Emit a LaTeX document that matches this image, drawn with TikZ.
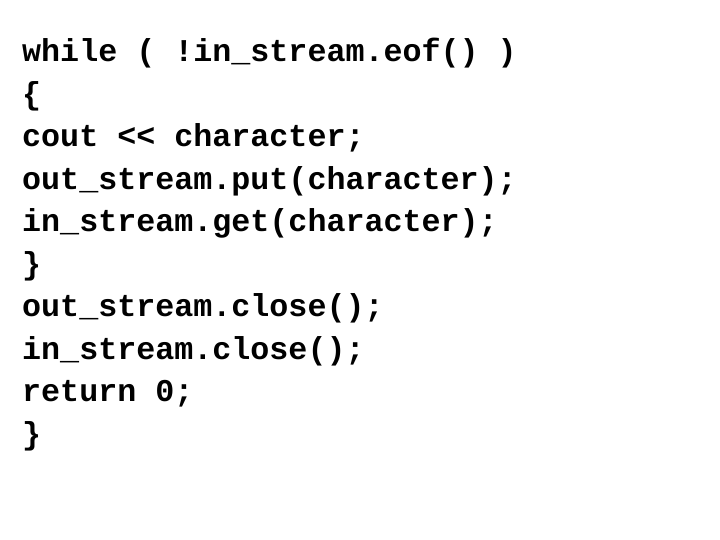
\documentclass[tikz,border=0pt]{standalone}
\usepackage{fontspec}
\setmonofont{Liberation Mono}
\begin{document}
\begin{tikzpicture}[x=1pt,y=1pt,code/.style={anchor=base west,inner sep=0pt,font=\ttfamily\bfseries\fontsize{31.7}{42.5}\selectfont}]
\useasboundingbox[fill=white] (0,0) rectangle (720,540);
\node[code] (l1) at (22,540-62) {while ( !in\_stream.eof() )};
\node[code] (l2) at (22,540-104.5) {\{};
\node[code] (l3) at (22,540-147) {cout << character;};
\node[code] (l4) at (22,540-189.5) {out\_stream.put(character);};
\node[code] (l5) at (22,540-232) {in\_stream.get(character);};
\node[code] (l6) at (22,540-274.5) {\}};
\node[code] (l7) at (22,540-317) {out\_stream.close();};
\node[code] (l8) at (22,540-359.5) {in\_stream.close();};
\node[code] (l9) at (22,540-402) {return 0;};
\node[code] (l10) at (22,540-444.5) {\}};
\end{tikzpicture}
\end{document}
